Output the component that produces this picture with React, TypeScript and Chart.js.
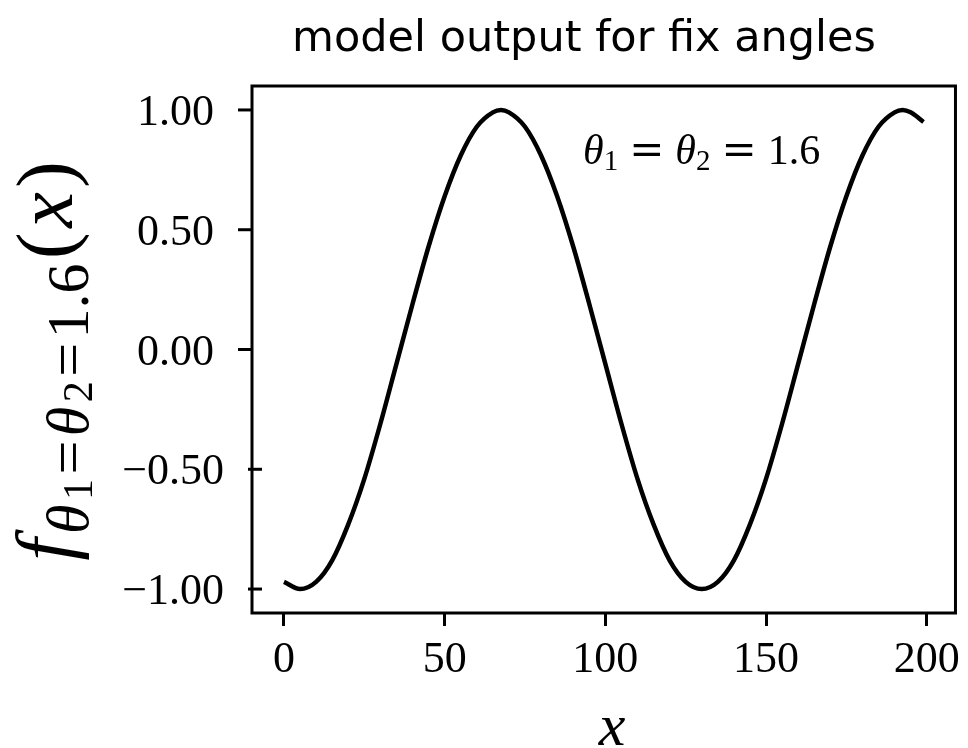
import React, { useEffect, useRef } from "react";
import { Chart, registerables } from "chart.js";

Chart.register(...registerables);

// Model output f(x) for θ1 = θ2 = 1.6, sampled along x
const xValues = [
  0, 5, 10, 15, 20, 25, 30, 35, 40, 45, 50, 55, 60, 65, 67.5, 70, 75, 80, 85, 90,
  95, 100, 105, 110, 115, 120, 125, 130, 135, 140, 145, 150, 155, 160, 165, 170,
  175, 180, 185, 190, 192.5, 195, 199,
];
const yValues = [
  -0.97, -1.0, -0.97, -0.88, -0.73, -0.54, -0.31, -0.06, 0.19, 0.43, 0.64, 0.81,
  0.93, 0.99, 1.0, 0.99, 0.93, 0.81, 0.64, 0.43, 0.19, -0.06, -0.31, -0.54, -0.73,
  -0.88, -0.97, -1.0, -0.97, -0.88, -0.73, -0.54, -0.31, -0.06, 0.19, 0.43, 0.64,
  0.81, 0.93, 0.99, 1.0, 0.99, 0.95,
];

const xTickValues = [0, 50, 100, 150, 200];
const xTickLabels = ["0", "50", "100", "150", "200"];
const yTickValues = [-1, -0.5, 0, 0.5, 1];
const yTickLabels = ["\u22121.00", "\u22120.50", "0.00", "0.50", "1.00"];

const titleText = "model output for fix angles";

const SERIF = "'Liberation Serif', 'DejaVu Serif', serif";
const TITLE_FONT = "'DejaVu Sans', 'Noto Sans', sans-serif";

type Seg = { text: string; font: string; dy: number };

function drawSegments(ctx: CanvasRenderingContext2D, segs: Seg[], x: number, y: number, gap: number) {
  let cx = x;
  for (const s of segs) {
    ctx.font = s.font;
    ctx.fillText(s.text, cx, y + s.dy);
    cx += ctx.measureText(s.text).width + gap;
  }
}

function segWidth(ctx: CanvasRenderingContext2D, segs: Seg[], gap: number) {
  let w = 0;
  for (const s of segs) {
    ctx.font = s.font;
    w += ctx.measureText(s.text).width;
  }
  return w + gap * (segs.length - 1);
}

const decorations = {
  id: "decorations",
  afterDraw(chart: Chart) {
    const { ctx, chartArea } = chart;
    const yScale = chart.scales.y;
    ctx.save();
    ctx.fillStyle = "#000";
    ctx.strokeStyle = "#000";

    // axes frame
    ctx.lineWidth = 3;
    ctx.strokeRect(chartArea.left, chartArea.top, chartArea.right - chartArea.left, chartArea.bottom - chartArea.top);

    // y ticks and their labels (negative rows sit a little further right)
    ctx.textAlign = "right";
    ctx.textBaseline = "alphabetic";
    ctx.font = `44px ${SERIF}`;
    yTickValues.forEach((v, i) => {
      const py = yScale.getPixelForValue(v);
      const shift = v < 0 ? 10 : 0;
      ctx.beginPath();
      ctx.moveTo(chartArea.left - 14 + shift, py);
      ctx.lineTo(chartArea.left + shift, py);
      ctx.stroke();
      ctx.fillText(yTickLabels[i], chartArea.left - 38 + shift, py + 15);
    });

    // title
    ctx.font = `43px ${TITLE_FONT}`;
    ctx.textAlign = "center";
    ctx.fillText(titleText, 584, 51);

    // x axis label
    ctx.font = `italic 60px ${SERIF}`;
    ctx.fillText("x", 612, 745);

    // annotation inside the axes
    ctx.textAlign = "left";
    const ann: Seg[] = [
      { text: "\u03b8", font: `italic 42px ${SERIF}`, dy: 0 },
      { text: "1", font: `29px ${SERIF}`, dy: 6 },
      { text: "=", font: `42px 'DejaVu Serif', serif`, dy: 0 },
      { text: "\u03b8", font: `italic 42px ${SERIF}`, dy: 0 },
      { text: "2", font: `29px ${SERIF}`, dy: 6 },
      { text: "=", font: `42px 'DejaVu Serif', serif`, dy: 0 },
      { text: "1.6", font: `42px ${SERIF}`, dy: 0 },
    ];
    // wider spacing around the relation signs
    let ax = 583;
    ann.forEach((s) => {
      ctx.font = s.font;
      const pad = s.text === "=" ? 11 : 0;
      ax += pad;
      ctx.fillText(s.text, ax, 164 + s.dy);
      ax += ctx.measureText(s.text).width + pad;
    });

    // y axis label, rotated
    const ylab: Seg[] = [
      { text: "f", font: `italic 80px ${SERIF}`, dy: 0 },
      { text: "\u03b8", font: `italic 60px ${SERIF}`, dy: 16 },
      { text: "1", font: `42px ${SERIF}`, dy: 20 },
      { text: "=", font: `60px ${SERIF}`, dy: 16 },
      { text: "\u03b8", font: `italic 60px ${SERIF}`, dy: 16 },
      { text: "2", font: `42px ${SERIF}`, dy: 20 },
      { text: "=", font: `60px ${SERIF}`, dy: 16 },
      { text: "1.6", font: `60px ${SERIF}`, dy: 16 },
      { text: "(", font: `80px ${SERIF}`, dy: 0 },
      { text: "x", font: `italic 80px ${SERIF}`, dy: 0 },
      { text: ")", font: `80px ${SERIF}`, dy: 0 },
    ];
    const gap = 4.5;
    const w = segWidth(ctx, ylab, gap);
    ctx.translate(72, 361);
    ctx.rotate(-Math.PI / 2);
    drawSegments(ctx, ylab, -w / 2, 0, gap);

    ctx.restore();
  },
};

export default function App() {
  const canvasRef = useRef<HTMLCanvasElement | null>(null);

  useEffect(() => {
    const canvas = canvasRef.current;
    if (!canvas) return;
    const chart = new Chart(canvas, {
      type: "line",
      data: {
        datasets: [
          {
            data: xValues.map((x, i) => ({ x, y: yValues[i] })),
            borderColor: "#000",
            borderWidth: 4.5,
            pointRadius: 0,
            fill: false,
            cubicInterpolationMode: "monotone",
          },
        ],
      },
      options: {
        responsive: false,
        animation: false,
        events: [],
        layout: { padding: { top: 86, right: 7, left: 0, bottom: 0 } },
        plugins: {
          legend: { display: false },
          tooltip: { enabled: false },
          title: { display: false },
        },
        scales: {
          x: {
            type: "linear",
            min: -9.95,
            max: 208.95,
            afterBuildTicks: (axis: any) => {
              axis.ticks = xTickValues.map((v) => ({ value: v }));
            },
            afterFit: (axis: any) => {
              axis.height = 135;
            },
            grid: {
              drawOnChartArea: false,
              drawTicks: true,
              tickLength: 13,
              tickWidth: 3,
              tickColor: "#000",
            },
            border: { display: false },
            ticks: {
              color: "#000",
              font: { family: SERIF, size: 44 },
              padding: 8,
              maxRotation: 0,
              autoSkip: false,
              callback: (v: any) => {
                const i = xTickValues.indexOf(Number(v));
                return i >= 0 ? xTickLabels[i] : "";
              },
            },
          },
          y: {
            type: "linear",
            min: -1.1,
            max: 1.1,
            afterBuildTicks: (axis: any) => {
              axis.ticks = yTickValues.map((v) => ({ value: v }));
            },
            afterFit: (axis: any) => {
              axis.width = 252;
            },
            grid: { display: false },
            border: { display: false },
            ticks: { display: false },
          },
        },
      },
      plugins: [decorations],
    });
    return () => chart.destroy();
  }, []);

  return (
    <div style={{ position: "fixed", left: 0, top: 0, width: 968, height: 748, background: "#fff" }}>
      <canvas ref={canvasRef} width={968} height={748} style={{ display: "block" }} />
    </div>
  );
}
